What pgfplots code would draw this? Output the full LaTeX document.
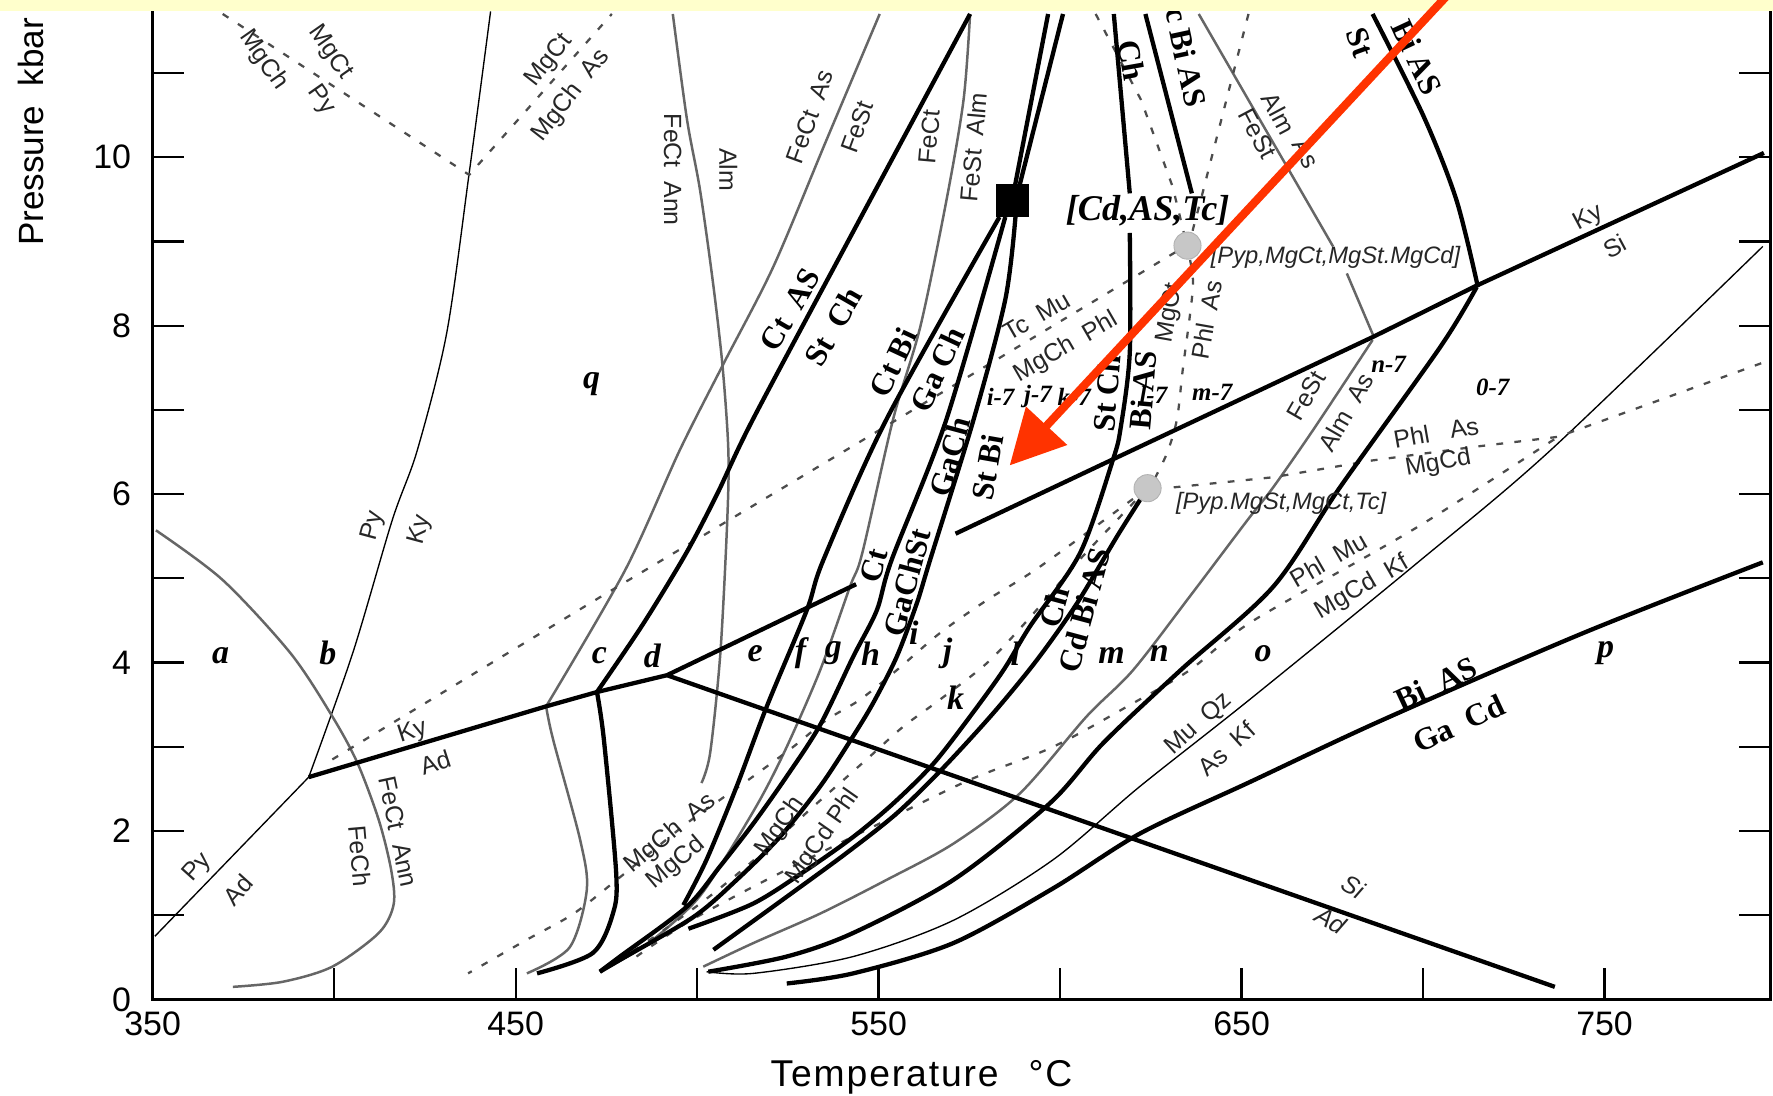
\documentclass[border=0pt]{standalone}
\usepackage{pgfplots}
\pgfplotsset{compat=1.18}
\usepackage{fontspec}
\setmainfont{Liberation Serif}
\setsansfont{Liberation Sans}
\usetikzlibrary{arrows.meta}
\definecolor{band}{RGB}{255,255,204}
\definecolor{arrowred}{RGB}{255,51,0}
\begin{document}
\begin{tikzpicture}[
 thk/.style={line width=1.9pt,black},
 gry/.style={line width=1.1pt,black!60},
 thn/.style={line width=0.6pt,black},
 dsh/.style={line width=1pt,black!70,dash pattern=on 3pt off 5pt},
 rl/.style={font=\sffamily\fontsize{11}{11}\selectfont,text=black!85,inner sep=0pt},
 bl/.style={font=\bfseries\fontsize{14}{14}\selectfont,inner sep=0pt},
 rg/.style={font=\bfseries\itshape\fontsize{15}{15}\selectfont,inner sep=0pt},
 sm/.style={font=\bfseries\itshape\fontsize{11}{11}\selectfont,inner sep=0pt},
]
\begin{axis}[scale only axis, width=715.5pt, height=439.5pt,
 xmin=350, xmax=795.79, ymin=0, ymax=11.8, clip=false,
 axis line style={line width=1.5pt},
 xtick={350,450,550,650,750}, minor xtick={400,500,600,700},
 ytick={0,2,4,6,8,10}, minor ytick={1,3,5,7,9,11},
 xtick pos=left, ytick pos=both,
 tick align=inside, major tick length=14pt, minor tick length=14pt,
 every tick/.style={black,line width=1pt},
 ticklabel style={font=\sffamily\fontsize{15}{15}\selectfont},
 yticklabel style={xshift=-6pt},
 xticklabel style={yshift=-2pt},
 /pgf/number format/assume math mode=true,
 /pgf/number format/1000 sep={},
]
% --- thin black lines
\addplot[thn,smooth] coordinates {(393.0,2.64)(405.1,4.11)(416.0,5.69)(422.9,6.52)(431.0,7.91)(437.2,9.81)(443.1,11.73)};
\addplot[thn] coordinates {(393.0,2.64)(350.6,0.75)};
\addplot[thn,smooth] coordinates {(502.6,0.33)(515.5,0.31)(543.0,0.51)(570.6,0.94)(598.1,1.66)(622.0,2.53)(652.2,3.56)(698.3,5.18)(735.1,6.52)(793.6,8.94)};
% --- gray lines
\addplot[gry,smooth] coordinates {(350.9,5.57)(369.3,4.98)(388.0,4.11)(399.5,3.36)(406.4,2.81)(412.3,2.13)(415.7,1.54)(416.4,1.13)(412.3,0.79)(399.5,0.39)(385.8,0.21)(372.1,0.15)};
\addplot[gry,smooth] coordinates {(458.4,3.48)(460.3,3.09)(467.8,1.89)(469.6,1.30)(464.9,0.62)(453.1,0.31)};
\addplot[gry,smooth] coordinates {(550.3,11.70)(535.6,10.20)(521.0,8.70)(507.3,7.55)(495.2,6.52)(480.2,5.10)(458.4,3.48)};
\addplot[gry,smooth] coordinates {(493.3,11.70)(497.2,10.45)(500.8,9.61)(504.4,8.50)(507.0,7.52)(508.6,6.52)(508.3,5.69)(506.4,4.11)(503.6,2.93)(501.2,2.57)};
\addplot[gry,smooth] coordinates {(575.2,11.70)(573.4,10.68)(568.7,9.49)(561.5,7.99)(554.0,6.89)(545.5,5.30)(542.1,4.90)(533.9,3.91)(524.7,3.00)(517.3,2.37)(506.3,1.58)(499.0,1.14)(486,0.65)(473.2,0.33)};
\addplot[gry] coordinates {(638.2,11.70)(675.2,8.94)};
\addplot[gry] coordinates {(679.0,8.62)(686.4,7.87)};
\addplot[gry,smooth] coordinates {(686.1,7.83)(670.0,6.78)(658.7,6.08)(651.6,5.69)(636.0,4.80)(620.1,3.91)(607.3,3.36)(589.0,2.45)(570.6,1.85)(552.2,1.42)(533.9,1.02)(515.5,0.67)(501.7,0.39)};
% --- dashed lines
\addplot[dsh] coordinates {(369.3,11.70)(437.2,9.79)(476.5,11.70)};
\addplot[dsh] coordinates {(399.5,2.85)(473.4,4.78)(545.6,6.64)(634.4,8.94)};
\addplot[dsh] coordinates {(609.8,11.70)(622.3,10.68)(631.0,9.65)(634.4,9.05)};
\addplot[dsh,smooth] coordinates {(651.9,11.70)(639.7,9.65)(635.7,8.94)(636.6,8.46)(633.8,7.48)(632.2,6.89)(629.4,6.48)(624.8,6.08)};
\addplot[dsh] coordinates {(631.3,6.08)(658.7,6.20)(686.1,6.40)(713.9,6.56)(737.2,6.68)(793.6,7.56)};
\addplot[dsh,smooth] coordinates {(483.3,0.51)(497.1,0.91)(515.5,1.34)(533.9,1.74)(552.2,2.13)(575.2,2.61)(598.1,3.00)(620.2,3.52)(635.7,3.91)(652.2,4.47)(686.1,5.30)(703.0,5.73)(737.2,6.68)};
\addplot[dsh,smooth] coordinates {(624.1,6.07)(594.5,5.14)(579.8,4.74)(566.9,4.35)(555.0,3.91)(544.9,3.56)(535.7,3.32)(526.5,3.00)(515.5,2.65)(506.3,2.37)(497.1,2.09)(478.7,1.45)(466.0,1.02)(453.1,0.71)(436.9,0.31)};
\addplot[dsh,smooth] coordinates {(624.1,6.07)(606,5.25)(592,4.55)(580,4.0)(566.9,3.56)(556.8,3.24)(548.5,2.92)(541.2,2.64)(532.0,2.29)(522.8,1.93)(513.6,1.58)(504.5,1.26)(497.1,1.02)(485,0.65)(473.2,0.33)};
% --- thick lines
\addplot[thk] coordinates {(393.0,2.64)(458.4,3.48)(472.4,3.65)(491.7,3.85)};
\addplot[thk] coordinates {(491.7,3.85)(543.8,4.93)};
\addplot[thk] coordinates {(571.2,5.53)(615.4,6.43)(686.4,7.87)(714.5,8.47)(793.9,10.05)};
\addplot[thk] coordinates {(491.7,3.85)(736.3,0.15)};
\addplot[thk,smooth] coordinates {(575.2,11.70)(542.8,9.10)(515.4,6.89)(505.5,6.00)(497.0,5.30)(485.0,4.45)(472.4,3.65)};
\addplot[thk,smooth] coordinates {(472.4,3.65)(474.3,3.09)(477.7,1.50)(476.8,1.02)(471.2,0.55)(455.9,0.31)};
\addplot[thk] coordinates {(586.8,9.49)(596.7,11.70)};
\addplot[thk] coordinates {(587.8,9.49)(600.8,11.70)};
\addplot[thk,smooth] coordinates {(583.3,9.29)(552.2,6.89)(534.8,5.22)(530.2,4.62)(519.2,3.48)(510.9,2.53)(502.6,1.66)(496.2,1.12)};
\addplot[thk,smooth] coordinates {(584.9,9.29)(568.7,6.89)(553.6,5.22)(549.5,4.62)(543.0,4.07)(533.9,3.26)(524.7,2.65)(515.5,2.09)(506.3,1.58)(497.1,1.10)(478.75,0.51)(473.2,0.33)};
\addplot[thk,smooth] coordinates {(587.7,9.29)(584.9,8.31)(576.2,6.89)(564.2,5.22)(560.5,4.70)(555.0,4.07)(548.5,3.52)(542.6,3.10)(533.9,2.53)(522.8,1.93)(510.9,1.42)(499.0,0.98)(478.75,0.47)(473.2,0.33)};
\addplot[thk] coordinates {(614.8,11.70)(619.2,9.57)};
\addplot[thk,smooth] coordinates {(619.2,9.10)(619.2,7.68)(616.7,6.79)(614.5,6.40)(605.5,5.30)(591.7,4.43)(584.4,3.91)(575.2,3.36)(565.1,2.80)(554.1,2.33)(543.0,1.93)(530.2,1.54)(515.5,1.14)(497.6,0.84)};
\addplot[thk] coordinates {(623.5,11.70)(636.3,9.57)};
\addplot[thk,smooth] coordinates {(624.1,6.07)(616,5.52)(604.6,4.70)(593.6,4.03)(581.6,3.40)(567.8,2.75)(555.0,2.21)(541.2,1.74)(524.7,1.22)(504.5,0.59)};
\addplot[thk,smooth] coordinates {(714.8,8.46)(704.8,7.75)(677.1,6.08)(658.7,4.90)(633.2,3.91)(612.0,3.05)(597.2,2.33)(570.6,1.42)(543.0,0.79)(524.7,0.51)(503.1,0.33)};
\addplot[thk,smooth] coordinates {(524.7,0.19)(543.0,0.31)(570.6,0.67)(598.1,1.32)(622.0,1.97)(652.2,2.58)(688.9,3.32)(744.1,4.35)(793.6,5.19)};
\addplot[thk,smooth] coordinates {(686.1,11.70)(700.2,10.48)(709.2,9.49)(715.1,8.46)};
% --- points
\addplot[only marks, mark=square*, mark size=7pt, black] coordinates {(586.8,9.49)};
\addplot[only marks, mark=*, mark size=6pt, draw=black!30, fill=black!22] coordinates {(635.1,8.95)(624.1,6.07)};
% --- reaction labels (sans)
\node[rl,rotate=-55] at (axis cs:380.5,11.15) {MgCh};
\node[rl,rotate=-55] at (axis cs:398.9,11.24) {MgCt};
\node[rl,rotate=-55] at (axis cs:396.4,10.68) {Py};
\node[rl,rotate=52] at (axis cs:459.3,11.15) {MgCt};
\node[rl,rotate=52] at (axis cs:465.3,10.73) {MgCh\ \ As};
\node[rl,rotate=75] at (axis cs:410.7,5.62) {Py};
\node[rl,rotate=75] at (axis cs:423.8,5.58) {Ky};
\node[rl,rotate=18] at (axis cs:421.6,3.17) {Ky};
\node[rl,rotate=18] at (axis cs:427.9,2.81) {Ad};
\node[rl,rotate=-78] at (axis cs:417.6,1.99) {FeCt\ \ Ann};
\node[rl,rotate=-85] at (axis cs:407.0,1.70) {FeCh};
\node[rl,rotate=48] at (axis cs:362.5,1.56) {Py};
\node[rl,rotate=48] at (axis cs:373.4,1.30) {Ad};
\node[rl,rotate=-90] at (axis cs:493.3,9.85) {FeCt\ \ Ann};
\node[rl,rotate=-90] at (axis cs:508.6,9.85) {Alm};
\node[rl,rotate=70] at (axis cs:531.0,10.48) {FeCt\ \ As};
\node[rl,rotate=70] at (axis cs:544.1,10.36) {FeSt};
\node[rl,rotate=85] at (axis cs:564.0,10.24) {FeCt};
\node[rl,rotate=85] at (axis cs:576.2,10.12) {FeSt\ \ Alm};
\node[rl,rotate=30] at (axis cs:593.6,8.11) {Tc\ \ Mu};
\node[rl,rotate=30] at (axis cs:601.7,7.74) {MgCh\ \ Phl};
\node[rl,rotate=80] at (axis cs:630.4,8.15) {MgCt};
\node[rl,rotate=80] at (axis cs:640.4,8.07) {Phl\ \ As};
\node[rl,rotate=-62] at (axis cs:660.3,10.52) {Alm};
\node[rl,rotate=-62] at (axis cs:654.4,10.28) {FeSt};
\node[rl,rotate=-62] at (axis cs:667.8,10.04) {As};
\node[rl,rotate=28] at (axis cs:745.6,9.27) {Ky};
\node[rl,rotate=28] at (axis cs:752.8,8.94) {Si};
\node[rl,rotate=60] at (axis cs:667.8,7.17) {FeSt};
\node[rl,rotate=60] at (axis cs:678.7,6.97) {Alm\ \ As};
\node[rl,rotate=10] at (axis cs:703.6,6.73) {Phl\ \ \ As};
\node[rl,rotate=10] at (axis cs:704.2,6.36) {MgCd};
\node[rl,rotate=30] at (axis cs:674.0,5.22) {Phl\ \ Mu};
\node[rl,rotate=30] at (axis cs:683.3,4.89) {MgCd\ \ Kf};
\node[rl,rotate=42] at (axis cs:638.2,3.27) {Mu\ \ Qz};
\node[rl,rotate=42] at (axis cs:645.9,2.98) {As\ \ Kf};
\node[rl,rotate=-30] at (axis cs:680.8,1.34) {\itshape Si};
\node[rl,rotate=-30] at (axis cs:674.6,0.94) {\itshape Ad};
\node[rl,rotate=40] at (axis cs:492.7,1.97) {MgCh\ \ As};
\node[rl,rotate=40] at (axis cs:494.2,1.62) {MgCd};
\node[rl,rotate=55] at (axis cs:522.9,2.05) {MgCh};
\node[rl,rotate=55] at (axis cs:534.7,1.93) {MgCd Phl};
\node[rl,font=\sffamily\itshape\fontsize{10.5}{10.5}\selectfont] at (axis cs:675.9,8.81) {[Pyp,MgCt,MgSt.MgCd]};
\node[rl,font=\sffamily\itshape\fontsize{10.5}{10.5}\selectfont] at (axis cs:660.9,5.89) {[Pyp.MgSt,MgCt,Tc]};
% --- reaction labels (bold serif)
\node[bl,rotate=60] at (axis cs:525.7,8.19) {Ct\ \ AS};
\node[bl,rotate=60] at (axis cs:537.5,7.99) {St\ \ Ch};
\node[bl,rotate=65] at (axis cs:554.0,7.56) {Ct\ Bi};
\node[bl,rotate=65] at (axis cs:566.2,7.48) {Ga\ Ch};
\node[bl,rotate=75] at (axis cs:569.6,6.44) {GaCh};
\node[bl,rotate=80] at (axis cs:579.9,6.32) {St Bi};
\node[bl,rotate=75] at (axis cs:548.8,5.15) {Ct};
\node[bl,rotate=75] at (axis cs:557.8,4.95) {GaChSt};
\node[bl,rotate=85] at (axis cs:612.9,7.20) {St Ch};
\node[bl,rotate=85] at (axis cs:622.9,7.23) {Bi AS};
\node[bl,rotate=75] at (axis cs:598.3,4.66) {Ch};
\node[bl,rotate=75] at (axis cs:606.6,4.62) {Cd Bi AS};
\node[bl,rotate=-80] at (axis cs:619.8,11.15) {Ch};
\node[bl,rotate=-78] at (axis cs:634.7,11.19) {c Bi AS};
\node[bl,rotate=-70] at (axis cs:682.7,11.36) {St};
\node[bl,rotate=-65] at (axis cs:698.3,11.19) {Bi AS};
\node[bl,rotate=25] at (axis cs:703.6,3.75) {Bi\ \ AS};
\node[bl,rotate=25] at (axis cs:709.8,3.28) {Ga\ \ Cd};
\node[rg,font=\bfseries\itshape\fontsize{16}{16}\selectfont] at (axis cs:624.1,9.36) {[Cd,AS,Tc]};
% --- region letters
\node[rg] at (axis cs:368.7,4.08) {a};
\node[rg] at (axis cs:398.3,4.11) {b};
\node[rg] at (axis cs:473.1,4.08) {c};
\node[rg] at (axis cs:487.7,4.08) {d};
\node[rg] at (axis cs:516.0,4.11) {e};
\node[rg] at (axis cs:528.5,4.11) {f};
\node[rg] at (axis cs:537.5,4.11) {g};
\node[rg] at (axis cs:547.8,4.11) {h};
\node[rg] at (axis cs:559.7,4.35) {i};
\node[rg] at (axis cs:569.0,4.11) {j};
\node[rg] at (axis cs:571.2,3.58) {k};
\node[rg] at (axis cs:587.7,4.11) {l};
\node[rg] at (axis cs:614.2,4.08) {m};
\node[rg] at (axis cs:627.3,4.11) {n};
\node[rg] at (axis cs:655.9,4.11) {o};
\node[rg] at (axis cs:750.3,4.11) {p};
\node[rg] at (axis cs:470.9,7.30) {q};
\node[sm] at (axis cs:583.6,7.16) {i-7};
\node[sm] at (axis cs:593.9,7.16) {j-7};
\node[sm] at (axis cs:603.9,7.16) {k-7};
\node[sm] at (axis cs:625.7,7.18) {l-7};
\node[sm] at (axis cs:641.9,7.21) {m-7};
\node[sm] at (axis cs:690.5,7.54) {n-7};
\node[sm] at (axis cs:719.2,7.27) {0-7};
% --- axis labels
\node[font=\sffamily\fontsize{15.5}{15.5}\selectfont,rotate=90] at (axis cs:316.4,10.30) {Pressure\ \ kbar};
\node[font=\sffamily\fontsize{16.5}{16.5}\selectfont\addfontfeature{LetterSpace=5}] at (axis cs:561.8,-0.93) {Temperature\hspace{0.8em}°C};
% --- band and arrow
\fill[band] (axis cs:307.94,11.732) rectangle (axis cs:796.5,11.95);
\draw[arrowred, line width=3.6pt, -{Triangle[length=24pt,width=24pt]}] (axis cs:707.3,11.95) -- (axis cs:586.1,6.34);
\coordinate (bbsw) at (axis cs:307.94,-1.141);
\coordinate (bbne) at (axis cs:796.41,11.866);
\end{axis}
\pgfresetboundingbox
\path (bbsw) rectangle (bbne);
\end{tikzpicture}
\end{document}
